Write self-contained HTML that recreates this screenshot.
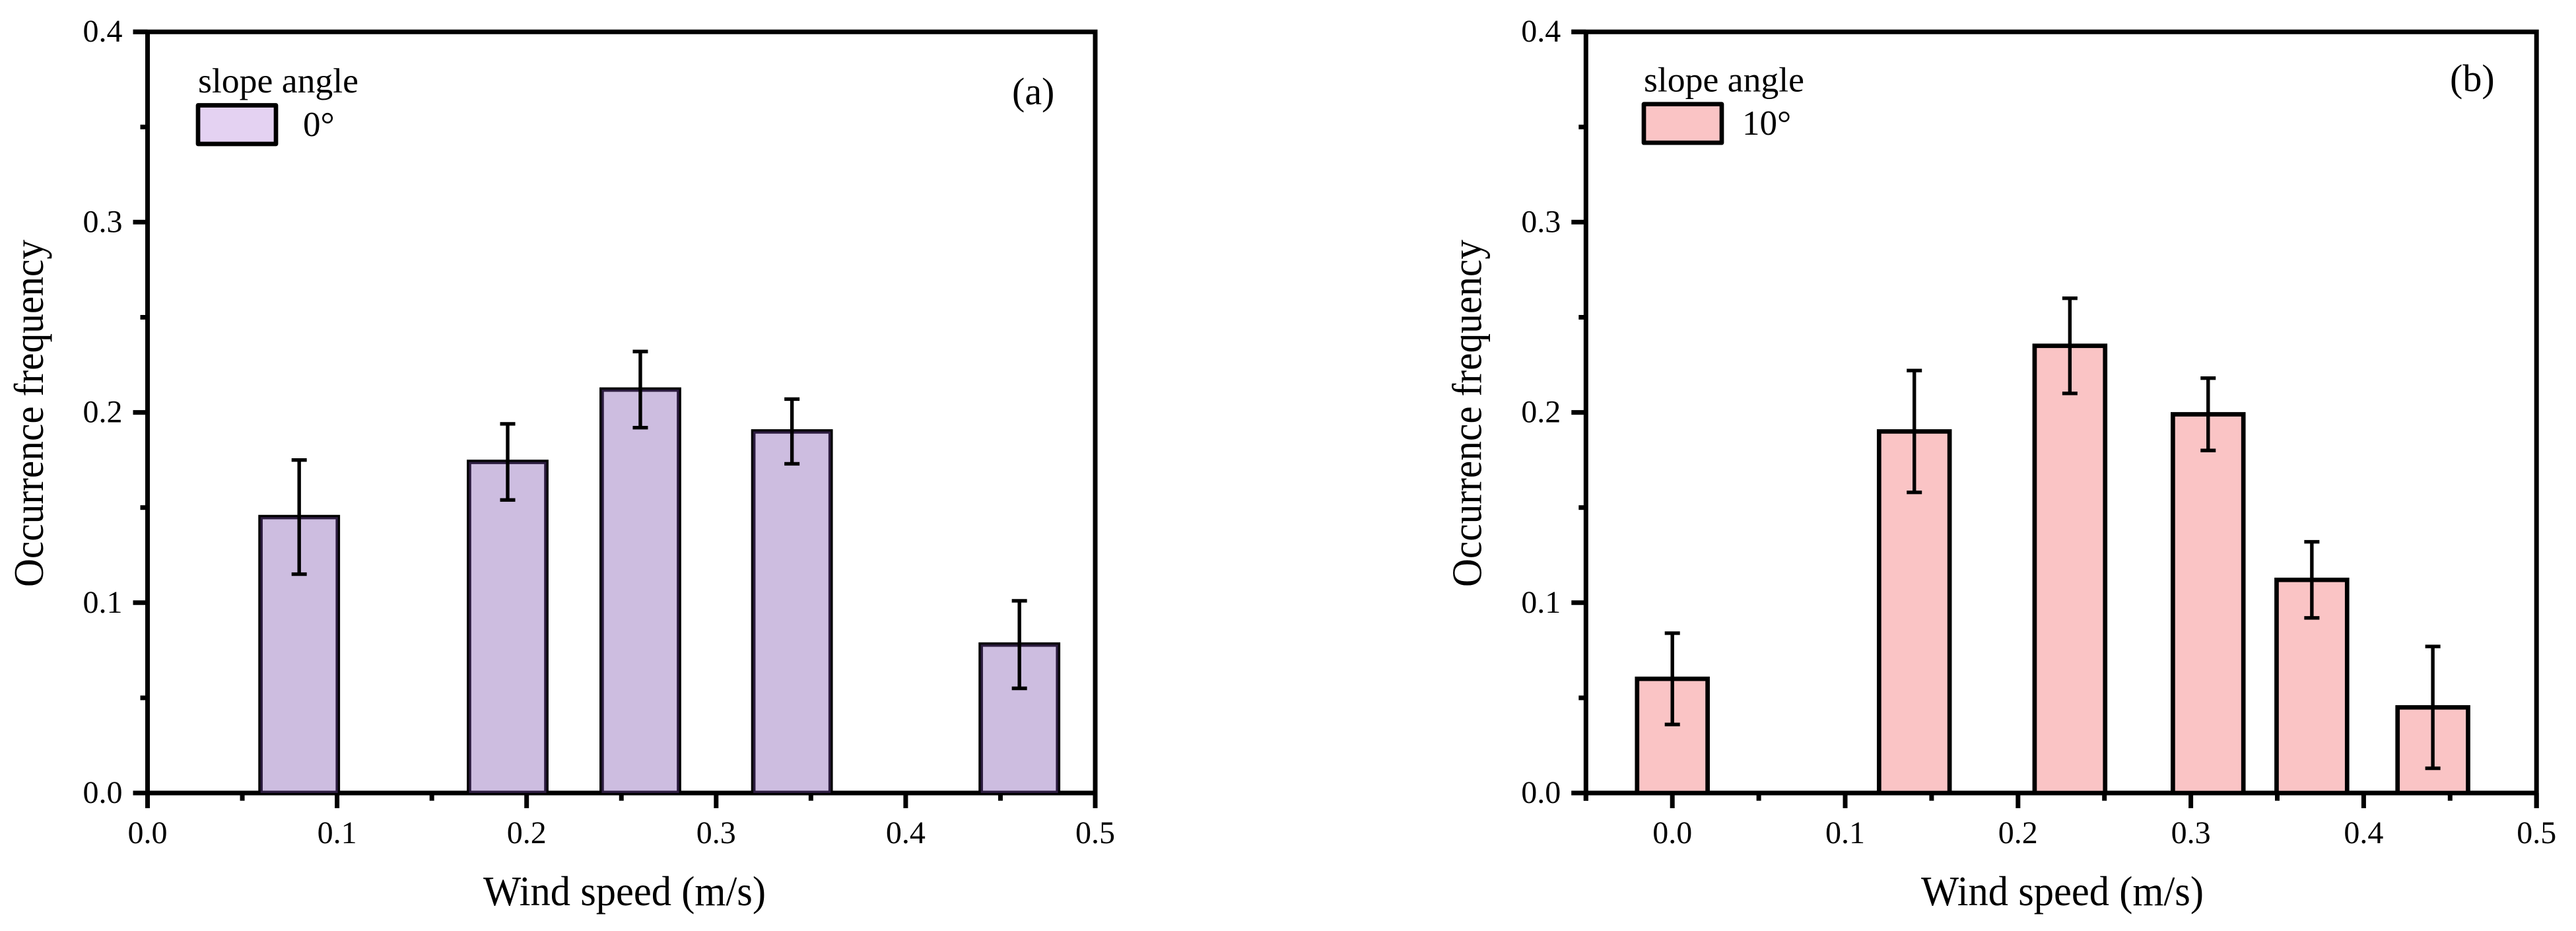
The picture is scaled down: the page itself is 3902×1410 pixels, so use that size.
<!DOCTYPE html>
<html lang="en">
<head>
<meta charset="utf-8">
<title>Occurrence frequency vs wind speed</title>
<style>
html,body{margin:0;padding:0;background:#fff;}
svg{display:block;}
text{font-family:"Liberation Serif",serif;fill:#000;}
</style>
</head>
<body>
<svg id="chart" xmlns="http://www.w3.org/2000/svg" width="3902" height="1410" viewBox="0 0 3902 1410"></svg>
<script>
const windSpeedA = [0.08, 0.19, 0.26, 0.34, 0.46];
const frequencyA = [0.145, 0.174, 0.212, 0.19, 0.078];
const errorA = [0.03, 0.02, 0.02, 0.017, 0.023];

const windSpeedB = [0.0, 0.14, 0.23, 0.31, 0.37, 0.44];
const frequencyB = [0.06, 0.19, 0.235, 0.199, 0.112, 0.045];
const errorB = [0.024, 0.032, 0.025, 0.019, 0.02, 0.032];

const yMajorTicks = [0.0, 0.1, 0.2, 0.3, 0.4];
const yMinorTicks = [0.05, 0.15, 0.25, 0.35];
const xMajorTicksA = [0.0, 0.1, 0.2, 0.3, 0.4, 0.5];
const xMinorTicksA = [0.05, 0.15, 0.25, 0.35, 0.45];
const xMajorTicksB = [0.0, 0.1, 0.2, 0.3, 0.4, 0.5];
const xMinorTicksB = [-0.05, 0.05, 0.15, 0.25, 0.35, 0.45];

const svg = document.getElementById('chart');
const NS = 'http://www.w3.org/2000/svg';

function make(parent, tag, attrs, content) {
  const el = document.createElementNS(NS, tag);
  for (const k in attrs) el.setAttribute(k, attrs[k]);
  if (content !== undefined) el.textContent = content;
  parent.appendChild(el);
  return el;
}

function drawPanel(p) {
  const g = make(svg, 'g', {});
  
  

  const xScale = v => p.x0 + v * p.xPerUnit;
  const yScale = v => p.y0 - v * p.yPerUnit;
  const left = xScale(p.xMin), right = xScale(p.xMax);
  const top = yScale(0.4), bottom = yScale(0);

  // frame
  const frame = make(g, 'path', {
    d: `M${left - 22} ${top}H${right + 3.5}M${right} ${top}V1224M${left - 22} ${bottom}H${right + 3.5}M${left} ${top}V${p.leftSpineEnd}`,
    stroke: '#000', 'stroke-width': 7, fill: 'none'
  });
  
  

  // y ticks
  yMajorTicks.forEach(v => {
    const t = make(g, 'line', {x1: left - 22, x2: left, y1: yScale(v), y2: yScale(v), stroke: '#000', 'stroke-width': 7});
    
    
    const l = make(g, 'text', {x: left - 38, y: yScale(v) + 15, 'font-size': 48, 'text-anchor': 'end'}, v.toFixed(1));
    
    
  });
  yMinorTicks.forEach(v => {
    const t = make(g, 'line', {x1: left - 11, x2: left, y1: yScale(v), y2: yScale(v), stroke: '#000', 'stroke-width': 7});
    
    
  });

  // x ticks
  p.xMajor.forEach(v => {
    const t = make(g, 'line', {x1: xScale(v), x2: xScale(v), y1: bottom, y2: 1224, stroke: '#000', 'stroke-width': 7});
    
    
    const l = make(g, 'text', {x: xScale(v), y: 1277, 'font-size': 48, 'text-anchor': 'middle'}, v.toFixed(1));
    
    
  });
  p.xMinor.forEach(v => {
    const t = make(g, 'line', {x1: xScale(v), x2: xScale(v), y1: bottom, y2: 1212.7, stroke: '#000', 'stroke-width': 7});
    
    
  });

  // bars
  p.speeds.forEach((s, i) => {
    const cx = xScale(s);
    const w = p.barWidth * p.xPerUnit;
    const yTop = yScale(p.values[i]);
    const bar = make(g, 'rect', {
      x: cx - w / 2, y: yTop, width: w, height: bottom - yTop,
      fill: p.barFill, 'fill-opacity': p.barOpacity, stroke: '#000', 'stroke-width': 6.7,
      style: 'paint-order:' + p.barPaintOrder
    });
    
    
    const hi = yScale(p.values[i] + p.errors[i]);
    const lo = yScale(p.values[i] - p.errors[i]);
    const err = make(g, 'path', {
      d: `M${cx} ${hi}V${lo}M${cx - 11.5} ${hi}H${cx + 11.5}M${cx - 11.5} ${lo}H${cx + 11.5}`,
      stroke: '#000', 'stroke-width': 5.4, fill: 'none'
    });
    
    
  });

  // axis titles
  const xt = make(g, 'text', {x: p.xTitleX, y: 1371, 'font-size': 63, textLength: 428, lengthAdjust: 'spacingAndGlyphs'}, 'Wind speed (m/s)');
  
  
  const yt = make(g, 'text', {
    x: 0, y: 0, 'font-size': 63, textLength: 526, lengthAdjust: 'spacingAndGlyphs',
    transform: `translate(${p.yTitleX} 889) rotate(-90)`
  }, 'Occurrence frequency');
  
  

  // legend
  const lt = make(g, 'text', {x: p.legX, y: p.legTitleY, 'font-size': 53, textLength: 243, lengthAdjust: 'spacingAndGlyphs'}, 'slope angle');
  
  
  const sw = make(g, 'rect', {x: p.legX, y: p.legBoxY, width: 118, height: 58.5, fill: p.legendFill, stroke: '#000', 'stroke-width': 6.7, 'stroke-linejoin': 'round'});
  
  
  const ll = make(g, 'text', {x: p.legLabelX, y: p.legLabelY, 'font-size': 53}, p.legendLabel);
  
  

  // panel letter
  const pl = make(g, 'text', {x: p.letterX, y: p.letterY, 'font-size': 58}, p.letter);
  
  
}

drawPanel({
  name: 'panel-a', x0: 223.5, xPerUnit: 2871, y0: 1201, yPerUnit: 2882, xMin: 0, xMax: 0.5,
  leftSpineEnd: 1224, xMajor: xMajorTicksA, xMinor: xMinorTicksA,
  speeds: windSpeedA, values: frequencyA, errors: errorA, barWidth: 0.0408,
  barFill: 'rgb(119,76,171)', barOpacity: 0.369, barPaintOrder: 'stroke fill', legendFill: '#E4D2F2',
  xTitleX: 732, yTitleX: 65, legX: 300, legTitleY: 140, legBoxY: 159.5,
  legLabelX: 459, legLabelY: 206, legendLabel: '0°', letter: '(a)', letterX: 1533, letterY: 158
});
drawPanel({
  name: 'panel-b', x0: 2533.2, xPerUnit: 2618, y0: 1201, yPerUnit: 2882, xMin: -0.05, xMax: 0.5,
  leftSpineEnd: 1212.7, xMajor: xMajorTicksB, xMinor: xMinorTicksB,
  speeds: windSpeedB, values: frequencyB, errors: errorB, barWidth: 0.0408,
  barFill: '#FAC4C5', barOpacity: 1, barPaintOrder: 'fill stroke', legendFill: '#FAC4C5',
  xTitleX: 2910, yTitleX: 2243.5, legX: 2490, legTitleY: 138.3, legBoxY: 157.7,
  legLabelX: 2639, legLabelY: 204, legendLabel: '10°', letter: '(b)', letterX: 3711, letterY: 138
});
</script>
</body>
</html>
